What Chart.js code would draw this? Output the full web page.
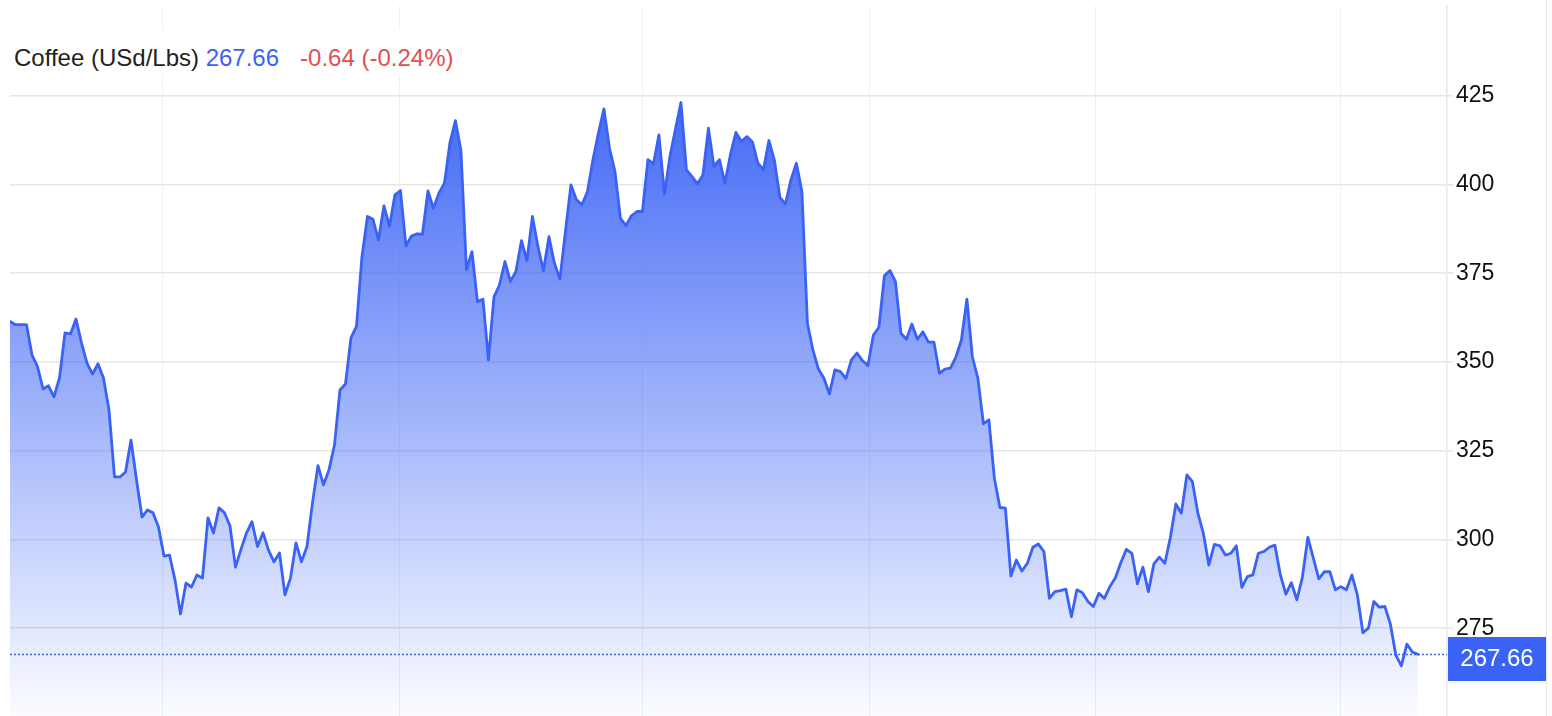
<!DOCTYPE html>
<html>
<head>
<meta charset="utf-8">
<title>Coffee (USd/Lbs)</title>
<script src="https://cdn.jsdelivr.net/npm/chart.js@4.4.1/dist/chart.umd.min.js"></script>
<style>
  html, body { margin: 0; background: #fff; }
  #wrap { position: relative; width: 1552px; height: 716px; overflow: hidden;
          font-family: "Liberation Sans", Arial, sans-serif; }
  #chart { position: absolute; left: 0; top: 0; }
  #title { position: absolute; left: 8px; top: 30px; height: 45px; box-sizing: border-box;
           padding: 10px 6px 0 6px; background: #fff; font-size: 24px; line-height: 35px;
           white-space: nowrap; color: #222; }
  #title .px { color: #3a62f5; }
  #title .chg { color: #e0514f; margin-left: 21px; }
</style>
</head>
<body>
<div id="wrap">
  <canvas id="chart" width="1552" height="716"></canvas>
  <div id="title"><span id="t-name"></span> <span class="px" id="t-last"></span><span class="chg" id="t-chg"></span></div>
</div>
<script>
// Kaffee-Future, Tagesschlusskurse
const seriesName = 'Coffee (USd/Lbs)';
const values = [
  361.4, 360.5, 360.5, 360.5, 352.0, 348.7, 342.4, 343.3, 340.2, 345.5,
  358.2, 357.9, 362.1, 355.4, 349.7, 346.6, 349.5, 345.5, 336.5, 317.6,
  317.6, 319.0, 328.0, 316.8, 306.3, 308.3, 307.5, 303.5, 295.3, 295.6,
  288.6, 279.0, 287.7, 286.6, 290.0, 289.1, 306.1, 301.8, 308.9, 307.5,
  303.8, 292.2, 297.2, 301.8, 305.0, 298.0, 301.9, 297.0, 293.7, 296.2,
  284.4, 289.1, 299.0, 293.7, 298.0, 310.3, 320.8, 315.4, 319.6, 326.6,
  342.1, 343.8, 356.8, 360.0, 379.7, 391.0, 390.2, 384.4, 394.0, 388.2,
  397.1, 398.3, 382.7, 385.5, 386.1, 386.0, 398.2, 393.3, 397.6, 400.4,
  411.8, 418.0, 409.5, 376.0, 381.1, 367.0, 367.7, 350.6, 368.3, 371.7,
  378.3, 372.7, 375.5, 384.2, 378.6, 391.0, 382.5, 375.7, 385.3, 377.8,
  373.4, 386.8, 399.9, 395.7, 394.3, 398.0, 407.0, 414.5, 421.3, 410.3,
  403.7, 390.5, 388.4, 391.2, 392.4, 392.4, 407.0, 405.8, 414.0, 397.3,
  407.9, 415.6, 423.1, 404.1, 402.3, 400.2, 402.7, 415.9, 405.1, 407.0,
  400.4, 408.4, 414.7, 412.1, 413.5, 412.0, 406.0, 404.1, 412.4, 406.8,
  396.4, 394.5, 401.3, 406.0, 398.0, 360.9, 353.4, 348.0, 345.4, 341.0,
  347.8, 347.3, 345.4, 350.6, 352.5, 350.4, 349.0, 357.6, 359.8, 374.3,
  375.8, 372.7, 358.1, 356.4, 360.7, 356.4, 358.5, 355.6, 355.6, 346.8,
  348.0, 348.3, 351.4, 356.2, 367.7, 351.4, 345.4, 332.6, 333.7, 317.2,
  309.0, 308.8, 289.7, 294.2, 291.1, 293.3, 297.8, 298.7, 296.6, 283.4,
  285.3, 285.6, 286.0, 278.2, 285.8, 285.0, 282.5, 281.1, 284.8, 283.4,
  286.7, 289.2, 293.5, 297.2, 296.1, 287.5, 292.2, 285.3, 293.1, 295.0,
  293.3, 300.6, 310.0, 307.4, 318.2, 316.3, 307.4, 301.7, 292.8, 298.6,
  298.2, 295.6, 296.1, 298.2, 286.5, 289.5, 290.0, 296.1, 296.6, 297.8,
  298.4, 290.0, 284.6, 287.8, 283.0, 289.3, 300.6, 294.7, 288.9, 290.9,
  290.9, 285.8, 286.7, 285.8, 290.0, 284.4, 273.7, 275.0, 282.5, 280.9,
  281.1, 276.2, 267.4, 264.4, 270.5, 268.3, 267.66
];
// senkrechte Gitterlinien (Monatswechsel, in Handelstagen gezählt)
const gridPositions = [27.7, 70.9, 115.0, 156.3, 197.3, 241.9];
const yTicks = [275, 300, 325, 350, 375, 400, 425];

const BLUE = '#3a62f5';
const last = values[values.length - 1];
const prev = values[values.length - 2];
const diff = last - prev;

document.getElementById('t-name').textContent = seriesName;
document.getElementById('t-last').textContent = last.toFixed(2);
document.getElementById('t-chg').textContent =
  `${diff.toFixed(2)} (${(diff / prev * 100).toFixed(2)}%)`;

// gepunktete Linie beim letzten Kurs + blaues Preisschild rechts
const lastPricePlugin = {
  id: 'lastPrice',
  afterDatasetsDraw(chart) {
    const { ctx, chartArea, scales } = chart;
    const y = Math.round(scales.y.getPixelForValue(last)) + 0.5;
    ctx.save();
    ctx.strokeStyle = BLUE;
    ctx.lineWidth = 1.5;
    ctx.setLineDash([2, 2]);
    ctx.beginPath();
    ctx.moveTo(chartArea.left, y);
    ctx.lineTo(chartArea.right, y);
    ctx.stroke();
    ctx.restore();
  },
  afterDraw(chart) {
    const { ctx, chartArea, scales, width, height } = chart;
    const y = scales.y.getPixelForValue(last);
    const x0 = chartArea.right + 1;
    const x1 = width - 6;
    ctx.save();
    ctx.fillStyle = '#e6e6e6';
    ctx.fillRect(x1, 0, 1, height);
    ctx.fillStyle = BLUE;
    ctx.fillRect(x0, Math.round(y) - 17, x1 - x0, 44);
    ctx.fillStyle = '#fff';
    ctx.font = '24px "Liberation Sans", Arial, sans-serif';
    ctx.textAlign = 'center';
    ctx.textBaseline = 'middle';
    ctx.fillText(last.toFixed(2), (x0 + x1) / 2, Math.round(y) + 5);
    ctx.restore();
  }
};

const ctx = document.getElementById('chart');
new Chart(ctx, {
  type: 'line',
  data: {
    datasets: [{
      label: seriesName,
      data: values.map((v, i) => ({ x: i, y: v })),
      borderColor: BLUE,
      borderWidth: 2.8,
      borderJoinStyle: 'round',
      borderCapStyle: 'round',
      pointRadius: 0,
      tension: 0,
      fill: 'start',
      backgroundColor: (c) => {
        const { chart } = c;
        const { chartArea, scales } = chart;
        if (!chartArea) return 'rgba(58,98,245,0.4)';
        const top = scales.y.getPixelForValue(Math.max(...values));
        const g = chart.ctx.createLinearGradient(0, top, 0, chartArea.bottom);
        g.addColorStop(0, 'rgba(58,98,245,0.95)');
        g.addColorStop(1, 'rgba(58,98,245,0.02)');
        return g;
      },
    }],
  },
  options: {
    responsive: false,
    animation: false,
    devicePixelRatio: 1,
    layout: { padding: { left: 10, top: 6, right: 0, bottom: 0 } },
    scales: {
      x: {
        type: 'linear',
        min: 0,
        max: 261.3,
        afterBuildTicks: (axis) => { axis.ticks = gridPositions.map(v => ({ value: v })); },
        afterFit: (axis) => { axis.height = 0; axis.paddingLeft = 0; axis.paddingRight = 0; },
        ticks: { display: false },
        grid: { color: '#eef1f6', lineWidth: 1, drawTicks: false },
        border: { display: false },
      },
      y: {
        position: 'right',
        min: 250.25,
        max: 450.3,
        afterBuildTicks: (axis) => { axis.ticks = yTicks.map(v => ({ value: v })); },
        afterFit: (axis) => { axis.width = 105; axis.paddingTop = 0; axis.paddingBottom = 0; },
        ticks: {
          color: '#111',
          padding: 3,
          font: { family: '"Liberation Sans", Arial, sans-serif', size: 23 },
        },
        grid: { color: '#e6e6e6', lineWidth: 1.5, drawTicks: true, tickLength: 6 },
        border: { display: true, color: '#e6e6e6', width: 1.5 },
      },
    },
    plugins: { legend: { display: false }, tooltip: { enabled: false } },
  },
  plugins: [lastPricePlugin],
});
</script>
</body>
</html>
